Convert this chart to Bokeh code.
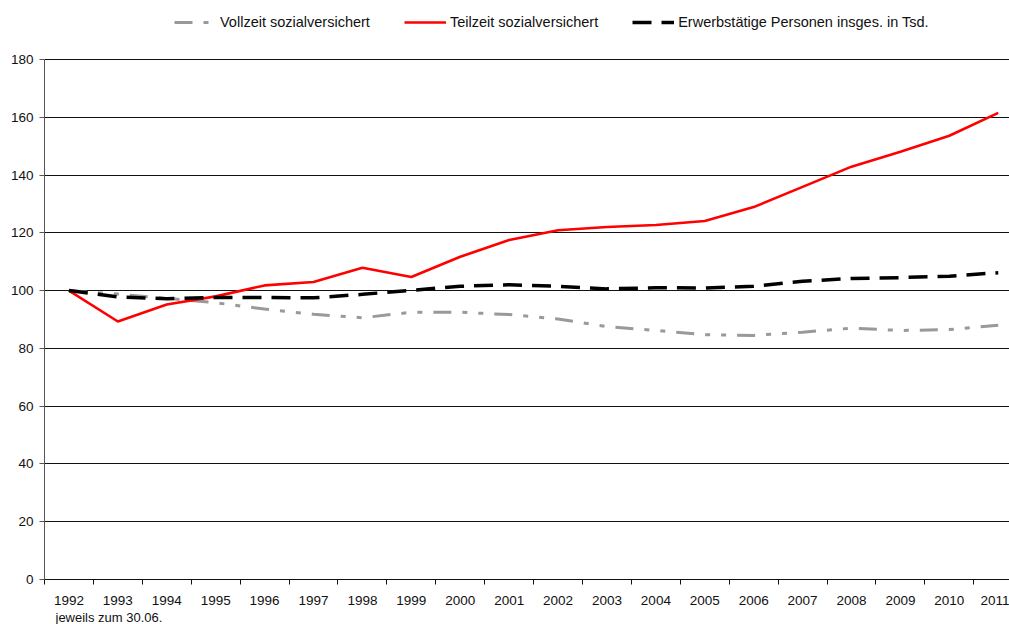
from bokeh.plotting import figure
from bokeh.models import (Legend, LegendItem, FixedTicker, Title, ColumnDataSource)
from bokeh.embed import file_html
from bokeh.resources import INLINE

years = list(range(1992, 2012))
vollzeit = [100.0, 98.8, 97.3, 95.8, 93.6, 91.8, 90.6, 92.5, 92.5, 91.7,
            90.2, 87.5, 86.2, 84.7, 84.5, 85.6, 87.0, 86.2, 86.5, 88.0]
teilzeit = [100.0, 89.3, 95.2, 98.0, 101.8, 103.0, 107.9, 104.7, 111.7, 117.5,
            120.9, 122.0, 122.7, 124.1, 128.9, 135.9, 142.9, 148.1, 153.6, 161.5]
erwerbs = [100.0, 97.8, 97.2, 97.6, 97.6, 97.5, 98.7, 100.1, 101.5, 102.0,
           101.5, 100.6, 101.0, 100.9, 101.5, 103.2, 104.2, 104.5, 105.0, 106.2]
y_ticks = [0, 20, 40, 60, 80, 100, 120, 140, 160, 180]
series_names = ["Vollzeit sozialversichert", "Teilzeit sozialversichert",
                "Erwerbstätige Personen insges. in Tsd."]
x_note = "jeweils zum 30.06."

FONT = "Liberation Sans"

src = ColumnDataSource(dict(x=years, v=vollzeit, t=teilzeit, e=erwerbs))

# frame reaches the top edge so the legend can sit inside it above the 180 line
p = figure(width=1009, height=624, output_backend="svg", toolbar_location=None,
           x_range=(1991.5, 2011.23), y_range=(0, 200.42),
           min_border_left=44, min_border_right=0, min_border_top=0,
           min_border_bottom=45, outline_line_color=None)
p.background_fill_color = "white"
p.border_fill_color = "white"

# grid
p.xgrid.grid_line_color = None
p.ygrid.grid_line_color = "#111111"
p.ygrid.grid_line_width = 1
p.ygrid.ticker = FixedTicker(ticks=y_ticks)

# y axis
p.yaxis.ticker = FixedTicker(ticks=y_ticks)
p.yaxis.bounds = (0, 180)
p.yaxis.axis_line_color = "#555555"
p.yaxis.major_tick_line_color = "#555555"
p.yaxis.major_tick_out = 5
p.yaxis.major_tick_in = 0
p.yaxis.minor_tick_line_color = None
p.yaxis.major_label_text_font = FONT
p.yaxis.major_label_text_font_size = "13.5px"
p.yaxis.major_label_text_color = "#111111"
p.yaxis.major_label_standoff = 6

# x axis
p.xaxis.ticker = FixedTicker(ticks=years, minor_ticks=[y + 0.5 for y in range(1991, 2012)])
p.xaxis.major_tick_line_color = None
p.xaxis.minor_tick_line_color = "#111111"
p.xaxis.minor_tick_out = 5
p.xaxis.minor_tick_in = 0
p.xaxis.axis_line_color = "#111111"
p.xaxis.major_label_text_font = FONT
p.xaxis.major_label_text_font_size = "13.5px"
p.xaxis.major_label_text_color = "#111111"
p.xaxis.major_label_standoff = 10

r_v = p.line("x", "v", source=src, line_color="#999999", line_width=3,
             line_dash="18 11 5 11 5 11")
r_t = p.line("x", "t", source=src, line_color="#ff0000", line_width=2.6)
r_e = p.line("x", "e", source=src, line_color="#000000", line_width=3.5,
             line_dash="19 10")

legend = Legend(items=[LegendItem(label=series_names[0], renderers=[r_v]),
                       LegendItem(label=series_names[1], renderers=[r_t]),
                       LegendItem(label=series_names[2], renderers=[r_e])],
                orientation="horizontal", location=(130, 547),
                glyph_width=42, glyph_height=20, label_standoff=4, spacing=34,
                padding=0, margin=0, border_line_color=None,
                background_fill_alpha=0,
                label_text_font=FONT, label_text_font_size="14.5px",
                label_text_color="#111111")
p.add_layout(legend)

note = Title(text=x_note, align="left", offset=11, standoff=0,
             text_font=FONT, text_font_size="13px", text_font_style="normal",
             text_color="#111111")
p.add_layout(note, "below")

open("out.html", "w").write(file_html(p, INLINE))
